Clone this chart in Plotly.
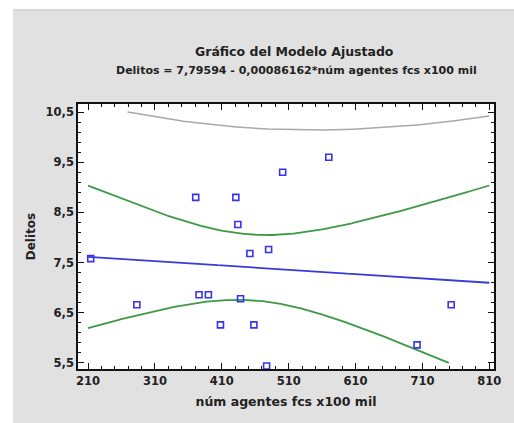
import numpy as np
import plotly.graph_objects as go

# Data
agentes = [214, 283, 376, 390, 408, 438, 458, 477, 702, 753,
           371, 431, 434, 452, 480, 501, 570]
delitos = [7.58, 6.66, 6.86, 6.86, 6.26, 6.78, 6.26, 5.44, 5.86, 6.66,
           8.80, 8.80, 8.26, 7.68, 7.76, 9.30, 9.60]

intercepto = 7.79594
pendiente = -0.00086162
t_crit = 2.131  # t(0.975, 15)

x_ticks = [210, 310, 410, 510, 610, 710, 810]
y_ticks = [5.5, 6.5, 7.5, 8.5, 9.5, 10.5]
y_labels = ["5,5", "6,5", "7,5", "8,5", "9,5", "10,5"]

x = np.array(agentes, dtype=float)
y = np.array(delitos, dtype=float)
n = len(x)
res = y - (intercepto + pendiente * x)
s = np.sqrt(np.sum(res ** 2) / (n - 2))
sxx = np.sum((x - x.mean()) ** 2)

xg = np.linspace(x_ticks[0], x_ticks[-1], 1201)
fit = intercepto + pendiente * xg
hw_ci = t_crit * s * np.sqrt(1 / n + (xg - x.mean()) ** 2 / sxx)
hw_pi = t_crit * s * np.sqrt(1 + 1 / n + (xg - x.mean()) ** 2 / sxx)


def clip(v):
    v = v.copy()
    v[(v < y_ticks[0]) | (v > y_ticks[-1])] = np.nan
    return v


fig = go.Figure()
for arr in (fit + hw_pi, fit - hw_pi):
    fig.add_trace(go.Scatter(x=xg, y=clip(arr), mode="lines",
                             line=dict(color="#a8a8a8", width=1.5),
                             hoverinfo="skip", showlegend=False))
for arr in (fit + hw_ci, fit - hw_ci):
    fig.add_trace(go.Scatter(x=xg, y=clip(arr), mode="lines",
                             line=dict(color="#3c9a44", width=1.8),
                             hoverinfo="skip", showlegend=False))
fig.add_trace(go.Scatter(x=xg, y=clip(fit), mode="lines",
                         line=dict(color="#3a3ad8", width=1.8),
                         hoverinfo="skip", showlegend=False))
fig.add_trace(go.Scatter(x=agentes, y=delitos, mode="markers",
                         marker=dict(symbol="square-open", size=6,
                                     color="#3434f0", line=dict(width=1.6)),
                         showlegend=False))

font = "DejaVu Sans, Verdana, sans-serif"
axis_common = dict(showgrid=False, zeroline=False, showline=True,
                   linecolor="#111111", linewidth=1.5, mirror="allticks",
                   ticks="inside", ticklen=6, tickwidth=1.2,
                   tickcolor="#111111",
                   tickfont=dict(family=font, size=11.5, color="#222222"))

fig.update_layout(
    width=514, height=423,
    margin=dict(l=78, r=20, t=104, b=54),
    paper_bgcolor="#e1e1e1",
    plot_bgcolor="white",
    font=dict(family=font, color="#222222"),
    xaxis=dict(**axis_common, range=[195, 817], tickvals=x_ticks,
               ticktext=["<b>%d</b>" % v for v in x_ticks],
               minor=dict(dtick=20, tick0=210, ticks="inside", ticklen=3,
                          tickcolor="#111111", tickwidth=1),
               title=dict(text="<b>núm agentes fcs x100 mil</b>",
                          font=dict(family=font, size=12.5), standoff=11)),
    yaxis=dict(**axis_common, range=[5.38, 10.66], tickvals=y_ticks,
               ticktext=["<b>%s</b>" % t for t in y_labels],
               minor=dict(dtick=0.2, tick0=5.5, ticks="inside", ticklen=3,
                          tickcolor="#111111", tickwidth=1),
               title=dict(text="<b>Delitos</b>",
                          font=dict(family=font, size=12), standoff=7)),
    annotations=[
        dict(text="<b>Gráfico del Modelo Ajustado</b>", xref="paper",
             yref="paper", x=0.52, y=(369 - 51) / 265, showarrow=False,
             font=dict(family=font, size=12.5, color="#222222"),
             xanchor="center", yanchor="middle"),
        dict(text="<b>Delitos = 7,79594 - 0,00086162*núm agentes fcs x100 mil</b>",
             xref="paper", yref="paper", x=0.525, y=(369 - 70) / 265,
             showarrow=False,
             font=dict(family=font, size=11, color="#222222"),
             xanchor="center", yanchor="middle"),
    ],
    shapes=[
        dict(type="rect", xref="paper", yref="paper",
             x0=-0.2, x1=1.1, y0=(369 - 10) / 265, y1=1.45,
             fillcolor="white", line=dict(width=0), layer="above"),
        dict(type="rect", xref="paper", yref="paper",
             x0=-0.2, x1=(13 - 78) / 416, y0=-0.3, y1=1.45,
             fillcolor="white", line=dict(width=0), layer="above"),
        dict(type="line", xref="paper", yref="paper",
             x0=(13 - 78) / 416, x1=1.1, y0=(369 - 10) / 265,
             y1=(369 - 10) / 265, line=dict(color="#cfcfcf", width=1.5),
             layer="above"),
    ],
)

fig.write_html("out.html")
